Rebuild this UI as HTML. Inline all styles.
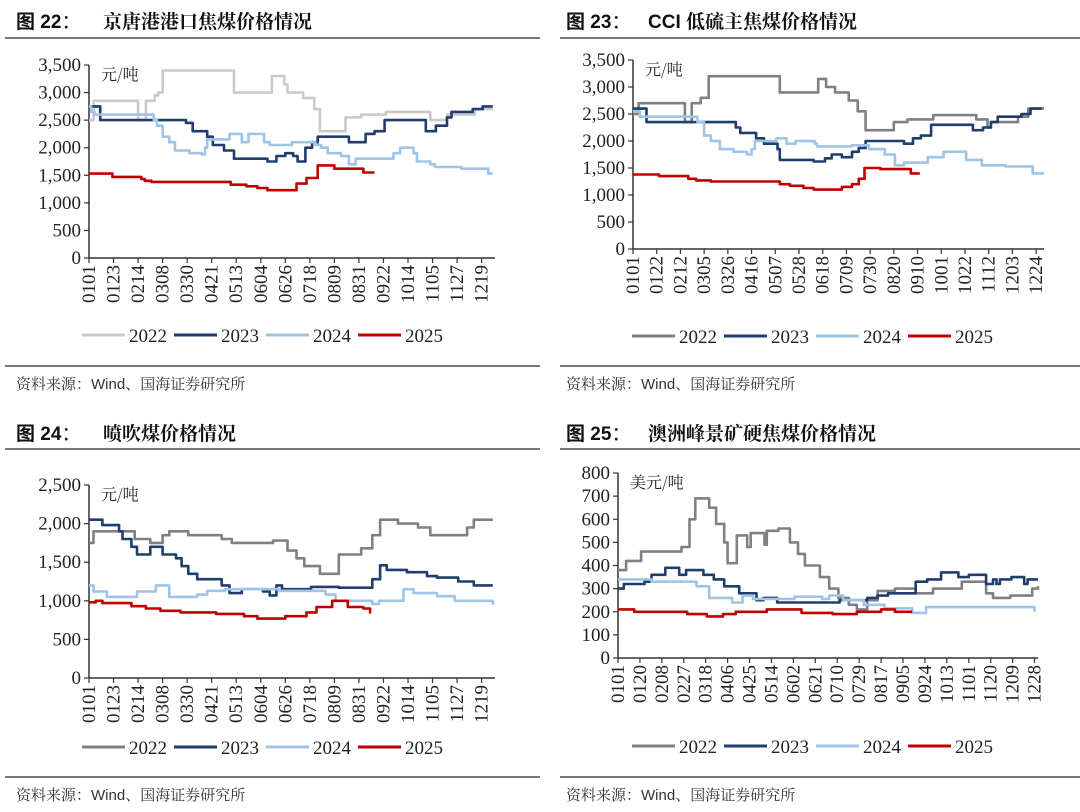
<!DOCTYPE html>
<html><head><meta charset="utf-8">
<style>
body{margin:0;background:#fff;}
svg{display:block;}
.t{font-family:"Liberation Sans","Noto Sans CJK SC",sans-serif;}
.s{font-family:"Liberation Serif","Noto Serif CJK SC",serif;}
</style></head>
<body>
<svg id="root" width="1080" height="812" viewBox="0 0 1080 812" xmlns="http://www.w3.org/2000/svg">
<g>
<text x="16" y="28" font-size="19" class="t" fill="#111"><tspan font-family="Noto Sans CJK SC" font-weight="bold">图</tspan><tspan font-weight="bold"> 22</tspan><tspan font-family="Noto Sans CJK SC">：</tspan></text>
<text x="103" y="28" font-size="19" font-family="Noto Serif CJK SC, serif" font-weight="bold" fill="#111">京唐港港口焦煤价格情况</text>
<rect x="5" y="37" width="535" height="2" fill="#777"/></g>
<g>
<text x="566" y="28" font-size="19" class="t" fill="#111"><tspan font-family="Noto Sans CJK SC" font-weight="bold">图</tspan><tspan font-weight="bold"> 23</tspan><tspan font-family="Noto Sans CJK SC">：</tspan></text>
<text x="648" y="28" font-size="19" class="t" font-weight="bold" fill="#111">CCI <tspan font-family="Noto Serif CJK SC, serif">低硫主焦煤价格情况</tspan></text>
<rect x="560" y="37" width="520" height="2" fill="#777"/></g>
<g>
<text x="16" y="440" font-size="19" class="t" fill="#111"><tspan font-family="Noto Sans CJK SC" font-weight="bold">图</tspan><tspan font-weight="bold"> 24</tspan><tspan font-family="Noto Sans CJK SC">：</tspan></text>
<text x="103" y="440" font-size="19" font-family="Noto Serif CJK SC, serif" font-weight="bold" fill="#111">喷吹煤价格情况</text>
<rect x="5" y="448" width="535" height="2" fill="#777"/></g>
<g>
<text x="566" y="440" font-size="19" class="t" fill="#111"><tspan font-family="Noto Sans CJK SC" font-weight="bold">图</tspan><tspan font-weight="bold"> 25</tspan><tspan font-family="Noto Sans CJK SC">：</tspan></text>
<text x="648" y="440" font-size="19" font-family="Noto Serif CJK SC, serif" font-weight="bold" fill="#111">澳洲峰景矿硬焦煤价格情况</text>
<rect x="560" y="448" width="520" height="2" fill="#777"/></g>
<rect x="5" y="365" width="535" height="2" fill="#777"/>
<rect x="560" y="365" width="520" height="2" fill="#777"/>
<rect x="5" y="776" width="535" height="2" fill="#777"/>
<rect x="560" y="776" width="520" height="2" fill="#777"/>
<text x="16" y="389" font-size="15" class="t" fill="#333"><tspan font-family="Noto Serif CJK SC">资料来源：</tspan>Wind<tspan font-family="Noto Serif CJK SC">、国海证券研究所</tspan></text>
<text x="566" y="389" font-size="15" class="t" fill="#333"><tspan font-family="Noto Serif CJK SC">资料来源：</tspan>Wind<tspan font-family="Noto Serif CJK SC">、国海证券研究所</tspan></text>
<text x="16" y="800" font-size="15" class="t" fill="#333"><tspan font-family="Noto Serif CJK SC">资料来源：</tspan>Wind<tspan font-family="Noto Serif CJK SC">、国海证券研究所</tspan></text>
<text x="566" y="800" font-size="15" class="t" fill="#333"><tspan font-family="Noto Serif CJK SC">资料来源：</tspan>Wind<tspan font-family="Noto Serif CJK SC">、国海证券研究所</tspan></text>
</svg>
<script>
// ---- data (day-of-year step series) ----
const seriesNames = ["2022","2023","2024","2025"];
const labels17 = ["0101","0123","0214","0308","0330","0421","0513","0604","0626","0718","0809","0831","0922","1014","1105","1127","1219"];
const labels18 = ["0101","0122","0212","0305","0326","0416","0507","0528","0618","0709","0730","0820","0910","1001","1022","1112","1203","1224"];
const labels20 = ["0101","0120","0208","0227","0318","0406","0425","0514","0602","0621","0710","0729","0817","0905","0924","1013","1101","1120","1209","1228"];
const yTicks1 = [0,500,1000,1500,2000,2500,3000,3500];
const yTicks3 = [0,500,1000,1500,2000,2500];
const yTicks4 = [0,100,200,300,400,500,600,700,800];

// Chart 22
const c1d22 = [1,5,45,52,60,63,67,131,165,176,179,193,203,208,231,245,267,307,322,347,363];
const c1v22 = [2500,2850,2500,2850,2950,3000,3400,3000,3300,3150,3000,2900,2700,2300,2550,2600,2650,2500,2600,2700,2700];
const c1d23 = [1,11,88,94,107,112,122,131,161,169,177,184,188,195,201,206,234,249,257,266,303,312,322,326,345,354,363];
const c1v23 = [2750,2500,2450,2300,2200,2050,1950,1800,1750,1850,1900,1850,1750,2000,2100,2200,2100,2250,2300,2500,2300,2400,2550,2650,2700,2750,2750];
const c1d24 = [1,3,6,59,62,67,73,78,91,102,105,107,127,138,144,158,163,183,204,209,215,227,234,240,274,280,292,295,307,311,335,359,363];
const c1v24 = [2750,2650,2600,2500,2400,2200,2100,1950,1900,1880,2000,2150,2250,2100,2250,2100,2050,2100,2050,2000,1900,1850,1700,1800,1900,2000,1900,1750,1700,1650,1620,1530,1530];
const c1d25 = [1,22,48,51,57,70,128,142,152,161,187,196,206,221,247,257];
const c1v25 = [1530,1470,1430,1400,1380,1380,1330,1300,1270,1230,1350,1450,1680,1620,1550,1550];

// Chart 23
const c2d22 = [1,6,47,53,61,68,131,165,172,180,192,200,207,232,244,267,305,315,318,342,351,365];
const c2v22 = [2500,2700,2350,2700,2800,3200,2900,3150,3000,2900,2750,2550,2200,2350,2400,2480,2400,2250,2350,2450,2600,2600];
const c2d23 = [1,13,92,96,110,117,129,131,161,171,177,186,195,201,207,241,249,256,265,302,311,318,324,345,353,363];
const c2v23 = [2600,2350,2250,2150,2050,1950,1850,1650,1620,1680,1750,1700,1800,1870,2000,1950,2050,2100,2300,2200,2250,2350,2450,2500,2600,2600];
const c2d24 = [1,7,58,64,70,78,90,102,106,109,128,137,145,162,164,195,210,224,233,241,262,276,296,310,331,355,365];
const c2v24 = [2550,2450,2350,2100,2000,1850,1800,1750,1850,2000,2050,1950,2000,1950,1900,1920,1850,1750,1550,1600,1700,1800,1650,1550,1530,1400,1400];
const c2d25 = [1,24,50,57,70,131,140,152,161,186,195,201,206,220,247,255];
const c2v25 = [1380,1350,1300,1270,1250,1200,1170,1130,1100,1150,1200,1300,1500,1480,1400,1400];

// Chart 24
const c3d22 = [1,5,42,56,67,73,90,120,129,166,179,187,194,208,225,245,255,262,278,296,307,340,346,363];
const c3v22 = [1750,1900,1800,1750,1850,1900,1850,1800,1750,1780,1650,1550,1450,1350,1600,1680,1850,2050,2000,1950,1850,1950,2050,2050];
const c3d23 = [1,13,28,31,39,44,56,67,79,84,90,98,120,127,138,157,163,169,174,200,225,255,262,268,286,304,313,332,346,363];
const c3v23 = [2050,1980,1900,1800,1700,1600,1700,1600,1550,1450,1350,1280,1200,1100,1150,1120,1070,1200,1150,1180,1170,1280,1460,1400,1370,1320,1300,1250,1200,1200];
const c3d24 = [1,5,17,44,61,73,98,107,123,171,213,222,230,255,261,283,292,313,329,363];
const c3v24 = [1200,1120,1050,1120,1200,1050,1080,1130,1150,1130,1080,1000,1000,960,1000,1150,1100,1060,1000,950];
const c3d25 = [1,7,13,39,52,65,83,115,140,152,177,196,205,219,233,247,253,254];
const c3v25 = [980,1000,970,930,900,870,850,830,800,770,800,850,920,1000,920,900,850,850];

// Chart 25
const c4d22 = [1,8,21,56,63,68,80,86,93,96,104,113,116,128,130,140,150,157,163,176,184,192,201,208,217,226,241,259,274,299,320,326,341,360,365];
const c4v22 = [380,420,460,480,600,690,650,580,500,410,530,480,540,490,550,560,500,450,400,350,300,260,230,210,250,290,300,280,300,330,280,260,270,300,310];
const c4d23 = [1,6,24,30,42,54,60,75,84,93,106,121,127,139,193,217,226,235,259,269,281,296,305,320,326,329,332,342,353,356,365];
const c4v23 = [300,320,330,360,390,360,380,360,340,310,280,250,260,240,250,260,270,280,330,340,370,350,360,320,340,320,340,350,320,340,340];
const c4d24 = [1,30,69,80,100,109,118,154,178,184,196,214,232,256,268,359,362];
const c4v24 = [340,330,310,260,240,270,255,265,255,270,250,230,215,195,220,220,200];
const c4d25 = [1,15,61,78,92,103,130,160,187,208,229,241,256];
const c4v25 = [210,200,190,180,190,200,210,195,190,200,210,200,200];

const colors = {
  c1: ["#cacaca","#1f3e6c","#9fc4e6","#c00000"],
  other: ["#808080","#1f3e6c","#9fc4e6","#c00000"]
};

const NS = "http://www.w3.org/2000/svg";
const root = document.getElementById("root");
function mk(tag, attrs, parent){ const e=document.createElementNS(NS,tag); for(const k in attrs) e.setAttribute(k,attrs[k]); (parent||root).appendChild(e); return e; }

function drawChart(cfg){
  const g = mk("g",{});
  
  
  const xS = d => cfg.x0 + (d-1)/364*(cfg.x1-cfg.x0);
  const yS = v => cfg.yBot - v/cfg.max*(cfg.yBot-cfg.yTop);
  const ya = mk("line",{x1:cfg.x0,y1:cfg.yTop,x2:cfg.x0,y2:cfg.yBot,stroke:"#333","stroke-width":1.5},g);
  
  
  const xa = mk("line",{x1:cfg.x0,y1:cfg.yBot,x2:cfg.x1,y2:cfg.yBot,stroke:"#333","stroke-width":1.5},g);
  
  
  cfg.yTicks.forEach(v=>{
    const y=yS(v);
    mk("line",{x1:cfg.x0-5,y1:y,x2:cfg.x0,y2:y,stroke:"#333","stroke-width":1.2},g);
    const t=mk("text",{x:cfg.x0-8,y:y+6,"text-anchor":"end","font-size":19,class:"s",fill:"#222"},g);
    t.textContent = v.toLocaleString("en-US");
    
    
  });
  cfg.labels.forEach((lab,i)=>{
    const x = xS(1 + i*cfg.step);
    mk("line",{x1:x,y1:cfg.yBot,x2:x,y2:cfg.yBot+5,stroke:"#333","stroke-width":1.2},g);
    const t=mk("text",{transform:`translate(${x+6},${cfg.yBot+7}) rotate(-90)`,"text-anchor":"end","font-size":19,class:"s",fill:"#222"},g);
    t.textContent = lab;
    
    
  });
  const u=mk("text",{x:cfg.x0+12,y:cfg.yTop+15,"font-size":16,"font-family":"Noto Serif CJK SC, serif",fill:"#222"},g);
  u.textContent = cfg.unit;
  
  
  cfg.series.forEach((s,i)=>{
    let d="";
    for(let k=0;k<s.d.length;k++){
      const x=xS(s.d[k]).toFixed(1), y=yS(s.v[k]).toFixed(1);
      if(k===0) d+=`M${x},${y}`; else { d+=`H${x}V${y}`; }
    }
    const p=mk("path",{d:d,fill:"none",stroke:cfg.colors[i],"stroke-width":2.6,"stroke-linejoin":"round"},g);
    
    
  });
  seriesNames.forEach((n,i)=>{
    const lx = cfg.lx + i*92;
    const lg = mk("g",{},g);
    
    
    mk("line",{x1:lx,y1:cfg.ly,x2:lx+43,y2:cfg.ly,stroke:cfg.colors[i],"stroke-width":3},lg);
    const t=mk("text",{x:lx+47,y:cfg.ly+7,"font-size":19,class:"s",fill:"#222"},lg);
    t.textContent=n;
  });
}

drawChart({name:"chart-jingtang-port",x0:89,x1:495,yTop:65,yBot:258,max:3500,yTicks:yTicks1,labels:labels17,step:22,unit:"元/吨",lx:82,ly:335,colors:colors.c1,
  series:[{d:c1d22,v:c1v22},{d:c1d23,v:c1v23},{d:c1d24,v:c1v24},{d:c1d25,v:c1v25}]});
drawChart({name:"chart-cci-low-sulfur",x0:633,x1:1044,yTop:60,yBot:249,max:3500,yTicks:yTicks1,labels:labels18,step:21,unit:"元/吨",lx:632,ly:336,colors:colors.other,
  series:[{d:c2d22,v:c2v22},{d:c2d23,v:c2v23},{d:c2d24,v:c2v24},{d:c2d25,v:c2v25}]});
drawChart({name:"chart-pci-coal",x0:89,x1:495,yTop:485,yBot:678,max:2500,yTicks:yTicks3,labels:labels17,step:22,unit:"元/吨",lx:82,ly:747,colors:colors.other,
  series:[{d:c3d22,v:c3v22},{d:c3d23,v:c3v23},{d:c3d24,v:c3v24},{d:c3d25,v:c3v25}]});
drawChart({name:"chart-peak-downs",x0:618,x1:1038,yTop:473,yBot:658,max:800,yTicks:yTicks4,labels:labels20,step:19,unit:"美元/吨",lx:632,ly:746,colors:colors.other,
  series:[{d:c4d22,v:c4v22},{d:c4d23,v:c4v23},{d:c4d24,v:c4v24},{d:c4d25,v:c4v25}]});
</script>
</body></html>
